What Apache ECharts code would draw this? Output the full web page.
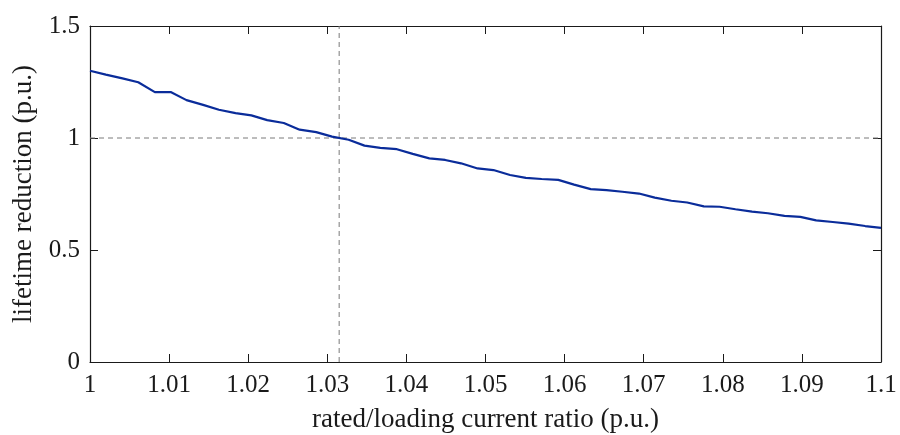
<!DOCTYPE html>
<html>
<head>
<meta charset="utf-8">
<script src="https://cdn.jsdelivr.net/npm/echarts@6/dist/echarts.min.js"></script>
<style>
  html, body { margin: 0; padding: 0; background: #ffffff; }
  #chart { width: 900px; height: 435px; }
</style>
</head>
<body>
<div id="chart"></div>
<script>
// Current ratio samples (p.u.), 50 points from 1 to 1.1
const currentRatio = [
  1.0000, 1.0020, 1.0041, 1.0061, 1.0082, 1.0102, 1.0122, 1.0143, 1.0163, 1.0184,
  1.0204, 1.0224, 1.0245, 1.0265, 1.0286, 1.0306, 1.0327, 1.0347, 1.0367, 1.0388,
  1.0408, 1.0429, 1.0449, 1.0469, 1.0490, 1.0510, 1.0531, 1.0551, 1.0571, 1.0592,
  1.0612, 1.0633, 1.0653, 1.0673, 1.0694, 1.0714, 1.0735, 1.0755, 1.0776, 1.0796,
  1.0816, 1.0837, 1.0857, 1.0878, 1.0898, 1.0918, 1.0939, 1.0959, 1.0980, 1.1000
];

// Lifetime reduction (p.u.) at each current ratio
const lifetimeReduction = [
  1.300, 1.283, 1.266, 1.249, 1.205, 1.205, 1.169, 1.148, 1.126, 1.111,
  1.101, 1.080, 1.067, 1.037, 1.026, 1.006, 0.992, 0.966, 0.956, 0.950,
  0.929, 0.909, 0.902, 0.887, 0.864, 0.857, 0.835, 0.822, 0.817, 0.813,
  0.792, 0.772, 0.767, 0.760, 0.752, 0.734, 0.720, 0.712, 0.695, 0.693,
  0.682, 0.671, 0.664, 0.652, 0.648, 0.632, 0.625, 0.618, 0.607, 0.599
];

// Guide lines: unity lifetime reduction and the ratio at which it is reached
const unityLevel = 1;
const crossingRatio = 1.0315;

// Tick labels
const xTickLabels = ['1', '1.01', '1.02', '1.03', '1.04', '1.05', '1.06', '1.07', '1.08', '1.09', '1.1'];
const yTickLabels = ['0', '0.5', '1', '1.5'];

const X_MIN = 1, X_MAX = 1.1, X_STEP = 0.01;
const Y_MIN = 0, Y_MAX = 1.5, Y_STEP = 0.5;

const FONT = '"Liberation Serif", "DejaVu Serif", serif';
const INK = '#1a1a1a';
const GUIDE = { color: '#7a7a7a', type: [5, 4], width: 1 };

const pickLabel = (labels, min, step) => v => {
  const i = Math.round((v - min) / step);
  return labels[i] !== undefined ? labels[i] : '';
};

const baseAxis = {
  axisLine: { show: true, onZero: false, lineStyle: { color: INK, width: 1.2 } },
  axisTick: { show: true, inside: true, length: 8, lineStyle: { color: INK, width: 1 } },
  splitLine: { show: false },
  axisLabel: { show: false }
};

const option = {
  animation: false,
  backgroundColor: '#ffffff',
  grid: {
    left: 90, right: 19, top: 26, bottom: 73,
    containLabel: false,
    outerBoundsMode: 'none'
  },
  xAxis: [
    Object.assign({}, baseAxis, {
      type: 'value', min: X_MIN, max: X_MAX, interval: X_STEP, position: 'bottom',
      name: 'rated/loading current ratio (p.u.)',
      nameLocation: 'middle', nameGap: 44,
      nameTextStyle: { fontFamily: FONT, fontSize: 27, color: INK },
      axisLabel: {
        show: true, margin: 11, fontFamily: FONT, fontSize: 25, color: INK,
        formatter: pickLabel(xTickLabels, X_MIN, X_STEP)
      }
    }),
    Object.assign({}, baseAxis, {
      type: 'value', min: X_MIN, max: X_MAX, interval: X_STEP, position: 'top'
    })
  ],
  yAxis: [
    Object.assign({}, baseAxis, {
      type: 'value', min: Y_MIN, max: Y_MAX, interval: Y_STEP, position: 'left',
      name: 'lifetime reduction (p.u.)',
      nameLocation: 'middle', nameGap: 44, nameRotate: 90,
      nameTextStyle: { fontFamily: FONT, fontSize: 27, color: INK },
      axisLabel: {
        show: true, margin: 10, fontFamily: FONT, fontSize: 25, color: INK,
        formatter: pickLabel(yTickLabels, Y_MIN, Y_STEP)
      }
    }),
    Object.assign({}, baseAxis, {
      type: 'value', min: Y_MIN, max: Y_MAX, interval: Y_STEP, position: 'right'
    })
  ],
  series: [
    {
      name: 'unity level',
      type: 'line',
      data: [[X_MIN, unityLevel], [X_MAX, unityLevel]],
      showSymbol: false, silent: true,
      lineStyle: GUIDE,
      z: 1
    },
    {
      name: 'crossing ratio',
      type: 'line',
      data: [[crossingRatio, Y_MIN], [crossingRatio, Y_MAX]],
      showSymbol: false, silent: true,
      lineStyle: GUIDE,
      z: 1
    },
    {
      name: 'lifetime reduction',
      type: 'line',
      data: currentRatio.map((x, i) => [x, lifetimeReduction[i]]),
      showSymbol: false,
      lineStyle: { color: '#0a2c9a', width: 2.2 },
      z: 3
    }
  ]
};

const chart = echarts.init(document.getElementById('chart'), null, { renderer: 'canvas' });
chart.setOption(option);
</script>
</body>
</html>
